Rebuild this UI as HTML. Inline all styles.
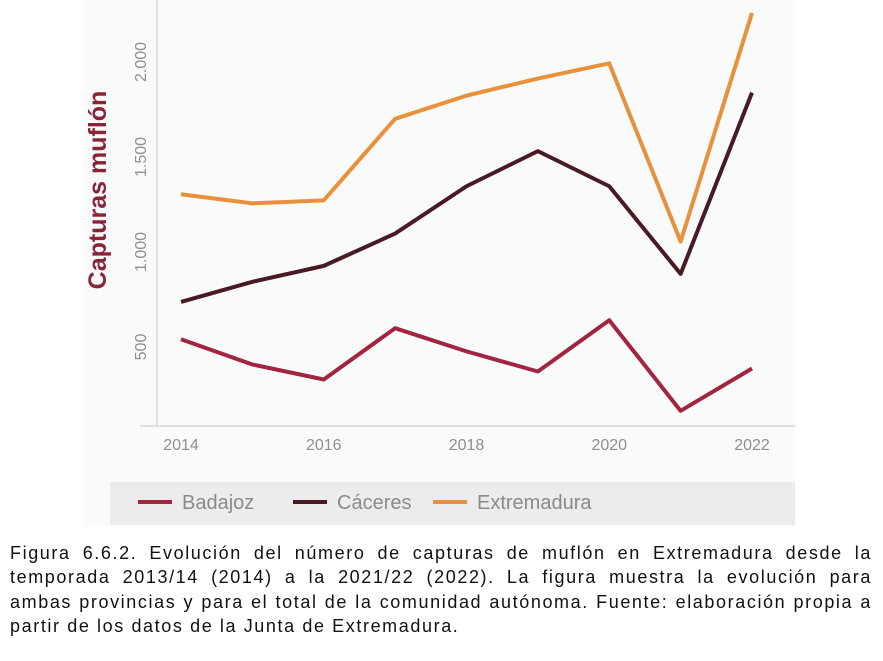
<!DOCTYPE html>
<html><head><meta charset="utf-8"><style>
body{margin:0;width:883px;height:661px;background:#fff;overflow:hidden;position:relative;font-family:"Liberation Sans",sans-serif}
#chart{position:absolute;left:0;top:0}
#caption{position:absolute;left:10px;top:541px;width:862px;font-family:"Liberation Sans",sans-serif;font-size:18px;letter-spacing:1.6px;line-height:24.3px;color:#111}
#caption div{text-align:justify;text-align-last:justify;white-space:nowrap}
#caption div.last{text-align-last:left}
</style></head><body>
<svg id="chart" width="883" height="530"></svg>
<div id="caption">
<div>Figura 6.6.2. Evolución del número de capturas de muflón en Extremadura desde la</div>
<div>temporada 2013/14 (2014) a la 2021/22 (2022). La figura muestra la evolución para</div>
<div>ambas provincias y para el total de la comunidad autónoma. Fuente: elaboración propia a</div>
<div class="last">partir de los datos de la Junta de Extremadura.</div>
</div>
<script>
const years=[2014,2015,2016,2017,2018,2019,2020,2021,2022];
const badajoz=[541,408,329,599,477,371,641,164,387];
const caceres=[737,843,927,1097,1346,1531,1346,885,1839];
const extremadura=[1304,1256,1272,1701,1823,1913,1993,1055,2258];
const yTicks=[500,1000,1500,2000];
const yTickLabels=["500","1.000","1.500","2.000"];
const xTicks=[2014,2016,2018,2020,2022];
const NS="http://www.w3.org/2000/svg";
const svg=document.getElementById('chart');
function x(v){return 181+(v-2014)*(752-181)/8;}
function y(v){return 442-v*0.19;}
function mk(t,a,p){const e=document.createElementNS(NS,t);for(const k in a)e.setAttribute(k,a[k]);(p||svg).appendChild(e);return e;}
let bg=mk('rect',{x:83,y:0,width:712,height:527,fill:'#f9fbfb'});


let ax=mk('line',{x1:157,y1:0,x2:157,y2:426,stroke:'#d8d8d8','stroke-width':1.5});


let bx=mk('line',{x1:140,y1:426,x2:795,y2:426,stroke:'#d8d8d8','stroke-width':1.5});


yTicks.forEach((v,i)=>{
  const t=mk('text',{x:0,y:0,transform:`translate(146,${y(v)}) rotate(-90)`,'text-anchor':'middle','font-size':16,fill:'#8f8f8f'});
  t.textContent=yTickLabels[i];
  
  
});
xTicks.forEach(v=>{
  const t=mk('text',{x:x(v),y:450,'text-anchor':'middle','font-size':16,fill:'#8f8f8f'});
  t.textContent=v;
  
  
});
const yt=mk('text',{x:0,y:0,transform:'translate(106,190) rotate(-90)','text-anchor':'middle','font-size':25,'font-weight':'bold',fill:'#8a2438'});
yt.textContent='Capturas muflón';


const series=[[badajoz,'#a3243f','line-badajoz'],[caceres,'#4a1a24','line-caceres'],[extremadura,'#e8913a','line-extremadura']];
series.forEach(([d,c,n])=>{
  const p=mk('polyline',{points:d.map((v,i)=>x(years[i])+','+y(v)).join(' '),fill:'none',stroke:c,'stroke-width':4,'stroke-linejoin':'round'});
  
  
});
const lg=mk('rect',{x:110,y:482,width:685,height:43,fill:'#ececec'});


[['Badajoz','#a3243f',138],['Cáceres','#4a1a24',293],['Extremadura','#e8913a',433]].forEach(([l,c,x0])=>{
  const g=mk('g',{});
  
  
  mk('line',{x1:x0,y1:502,x2:x0+34,y2:502,stroke:c,'stroke-width':4},g);
  const t=mk('text',{x:x0+44,y:509,'font-size':20,fill:'#8a8a8a'},g);t.textContent=l;
});
</script>
</body></html>
